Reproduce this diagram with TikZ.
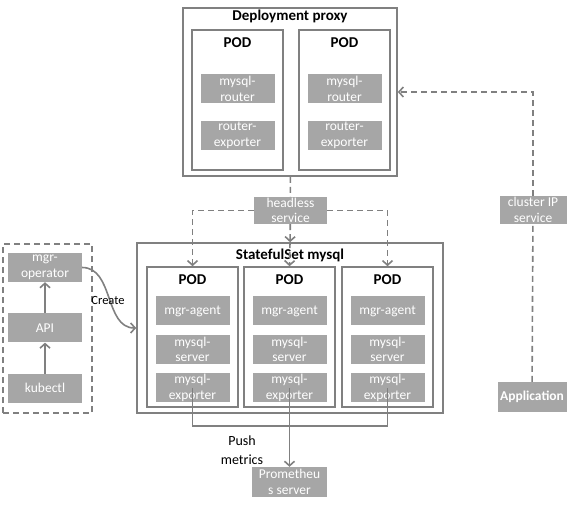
\documentclass[tikz,border=0pt]{standalone}
\usepackage{fontspec}
\setmainfont{Carlito}
\usetikzlibrary{positioning,arrows.meta}
\definecolor{boxgrey}{RGB}{166,166,166}
\definecolor{linegrey}{RGB}{128,128,128}

\begin{document}
\begin{tikzpicture}[
    x=1pt, y=-1pt,
    frame/.style={rectangle, draw=linegrey, line width=1.6pt, inner sep=0pt},
    cell/.style={rectangle, fill=boxgrey, text=white, minimum width=74pt, minimum height=29pt, inner sep=0pt, align=center, font=\fontsize{13.5}{15.5}\selectfont},
    title/.style={font=\bfseries\fontsize{15}{17}\selectfont, inner sep=0pt},
    arrow/.style={-{Straight Barb[length=4.5pt,width=10pt]}, draw=linegrey, line width=1.6pt},
    dashline/.style={draw=linegrey, line width=1.6pt, dash pattern=on 6pt off 4pt},
    note/.style={font=\fontsize{14}{19}\selectfont, align=center, inner sep=0pt}
]
    \useasboundingbox (0,0) rectangle (575,505);

    % Deployment proxy
    \node[frame, minimum width=214pt, minimum height=168pt] (proxy) at (290,92) {};
    \node[title] at (290,16) {Deployment proxy};
    \node[frame, minimum width=91pt, minimum height=140pt] (pp1) at (237.5,100) {};
    \node[frame, minimum width=91pt, minimum height=140pt] (pp2) at (344.5,100) {};
    \node[title, below=8pt of pp1.north] {POD};
    \node[title, below=8pt of pp2.north] {POD};
    \node[cell, below=45pt of pp1.north] (router1) {mysql-\\router};
    \node[cell, below=17pt of router1] (rexp1) {router-\\exporter};
    \node[cell, below=45pt of pp2.north] (router2) {mysql-\\router};
    \node[cell, below=17pt of router2] (rexp2) {router-\\exporter};

    % Services
    \node[cell, minimum width=73pt, minimum height=27pt] (headless) at (290.5,210.5) {headless\\service};
    \node[cell, minimum width=67pt, minimum height=28pt] (cip) at (533,210) {cluster IP\\service};
    \node[cell, minimum width=69pt, minimum height=30pt, font=\bfseries\fontsize{13.5}{15.5}\selectfont] (app) at (532,397) {Application};

    % StatefulSet mysql
    \node[frame, minimum width=306pt, minimum height=170pt] (sts) at (290,328) {};
    \node[title] at (290,255) {StatefulSet mysql};
    \node[frame, minimum width=91pt, minimum height=140pt] (pod1) at (192.5,337) {};
    \node[frame, minimum width=91pt, minimum height=140pt] (pod2) at (289.5,337) {};
    \node[frame, minimum width=91pt, minimum height=140pt] (pod3) at (387.5,337) {};
    \node[title, below=8pt of pod1.north] {POD};
    \node[title, below=8pt of pod2.north] {POD};
    \node[title, below=8pt of pod3.north] {POD};
    \node[cell, below=30pt of pod1.north] (agent1) {mgr-agent};
    \node[cell, below=9pt of agent1] (server1) {mysql-\\server};
    \node[cell, below=9pt of server1] (exp1) {mysql-\\exporter};
    \node[cell, below=30pt of pod2.north] (agent2) {mgr-agent};
    \node[cell, below=9pt of agent2] (server2) {mysql-\\server};
    \node[cell, below=9pt of server2] (exp2) {mysql-\\exporter};
    \node[cell, below=30pt of pod3.north] (agent3) {mgr-agent};
    \node[cell, below=9pt of agent3] (server3) {mysql-\\server};
    \node[cell, below=9pt of server3] (exp3) {mysql-\\exporter};

    % Operator side
    \node[frame, dashline, minimum width=89pt, minimum height=169pt] (ops) at (47.5,328.5) {};
    \node[cell] (op) at (45,267.5) {mgr-\\operator};
    \node[cell, below=31pt of op] (api) {API};
    \node[cell, below=31pt of api] (kubectl) {kubectl};

    % Prometheus
    \node[cell, minimum width=75pt, minimum height=30pt] (prom) at (289.5,482) {Prometheu\\s server};
    \coordinate (bus) at (289.5,426);

    % Arrows
    \draw[dashline] (proxy) -- (headless);
    \draw[arrow, dashline] (headless) -- (sts.north);
    \draw[arrow, dashline] (sts.north) -- (pod2.north);
    \draw[arrow, dashline] (headless.west) -| (pod1.north);
    \draw[arrow, dashline] (headless.east) -| (pod3.north);
    \draw[dashline] (app) -- (cip);
    \draw[arrow, dashline] (cip.north) |- (proxy.east);
    \draw[arrow] (kubectl) -- (api);
    \draw[arrow] (api) -- (op);
    \draw[arrow] (op.east) to[out=0, in=180] (sts.west);
    \draw[draw=linegrey, line width=1.6pt] (exp1.center) |- (bus) -| (exp3.center);
    \draw[arrow] (exp2.center) -- (prom.north);

    % Labels
    \node[note, font=\fontsize{12.5}{14}\selectfont] at (108,300) {Create};
    \node[note] at (242,450) {Push\\metrics};

\end{tikzpicture}
\end{document}
